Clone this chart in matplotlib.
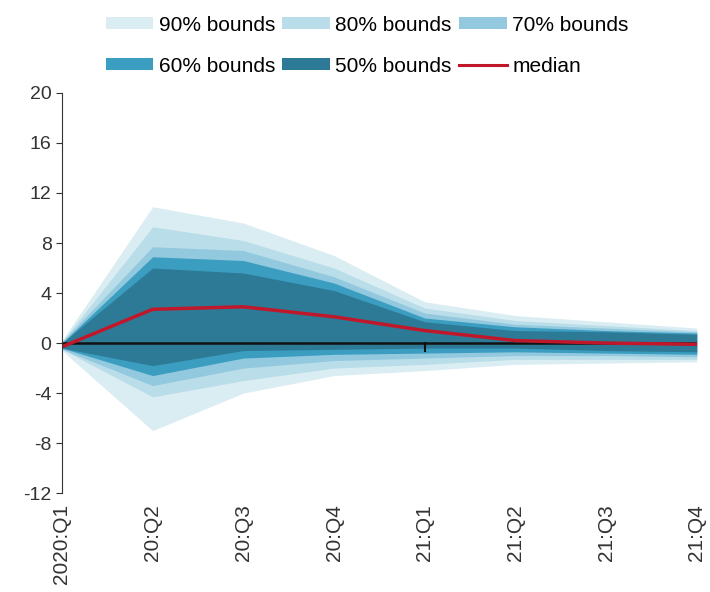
import numpy as np
import matplotlib
matplotlib.use('Agg')
import matplotlib.pyplot as plt
from matplotlib.patches import Patch
from matplotlib.lines import Line2D

plt.rcParams['font.family'] = ['Liberation Sans', 'DejaVu Sans']
plt.rcParams['axes.unicode_minus'] = False

quarters = ['2020:Q1', '20:Q2', '20:Q3', '20:Q4', '21:Q1', '21:Q2', '21:Q3', '21:Q4']

median = [-0.3, 2.7, 2.9, 2.1, 1.0, 0.2, 0.0, -0.1]

up90 = [0.2, 10.9, 9.6, 7.0, 3.3, 2.2, 1.7, 1.2]
lo90 = [-0.6, -7.0, -4.0, -2.6, -2.2, -1.7, -1.6, -1.5]
up80 = [0.1, 9.3, 8.2, 6.0, 2.8, 1.8, 1.4, 1.0]
lo80 = [-0.5, -4.3, -3.0, -2.0, -1.7, -1.3, -1.3, -1.3]
up70 = [0.1, 7.7, 7.4, 5.3, 2.4, 1.5, 1.2, 0.9]
lo70 = [-0.5, -3.4, -2.0, -1.4, -1.2, -1.0, -1.0, -1.1]
up60 = [0.0, 6.9, 6.6, 4.8, 2.0, 1.3, 1.0, 0.8]
lo60 = [-0.4, -2.6, -1.2, -0.9, -0.8, -0.7, -0.8, -0.9]
up50 = [0.0, 6.0, 5.6, 4.2, 1.7, 1.0, 0.9, 0.7]
lo50 = [-0.4, -1.8, -0.6, -0.5, -0.4, -0.4, -0.6, -0.7]

bands = [
    ('90% bounds', up90, lo90, '#daedf3'),
    ('80% bounds', up80, lo80, '#b9dde9'),
    ('70% bounds', up70, lo70, '#92c9de'),
    ('60% bounds', up60, lo60, '#3b9dc0'),
    ('50% bounds', up50, lo50, '#2c7a96'),
]

x = np.arange(len(quarters))

fig = plt.figure(figsize=(7.1, 5.92), dpi=100)
ax = fig.add_axes([0.0873, 0.167, 0.894, 0.676])

handles = {}
for name, up, lo, col in bands:
    ax.fill_between(x, lo, up, color=col, linewidth=0)
    handles[name] = Patch(facecolor=col, edgecolor='none')

ax.axhline(0, color='#111111', linewidth=1.8)
# small tick on the zero line at 21:Q1
ax.plot([x[4], x[4]], [0, -0.6], color='#111111', linewidth=1.5)
ax.plot(x, median, color='#c0182a', linewidth=2.5)
handles['median'] = Line2D([0], [0], color='#c0182a', linewidth=2.2)

ax.set_xlim(0, len(quarters) - 1)
ax.set_ylim(-12, 20)
ax.set_yticks(np.arange(-12, 21, 4))
ax.set_xticks(x)
ax.set_xticklabels(quarters, rotation=90, fontsize=15, color='#333333')
ax.tick_params(axis='x', length=0, pad=8)
ax.tick_params(axis='y', labelsize=14, colors='#333333', length=4, direction='out')

for s in ['top', 'right', 'bottom']:
    ax.spines[s].set_visible(False)
ax.spines['left'].set_color('#333333')

order = ['90% bounds', '60% bounds', '80% bounds', '50% bounds', '70% bounds', 'median']
fig.legend([handles[k] for k in order], order, loc='upper center',
           bbox_to_anchor=(0.517, 1.005), ncol=3, frameon=False, fontsize=15,
           handlelength=2.3, handleheight=0.5, handletextpad=0.25,
           columnspacing=0.35, labelspacing=1.05)

fig.savefig('out.png', dpi=100)
